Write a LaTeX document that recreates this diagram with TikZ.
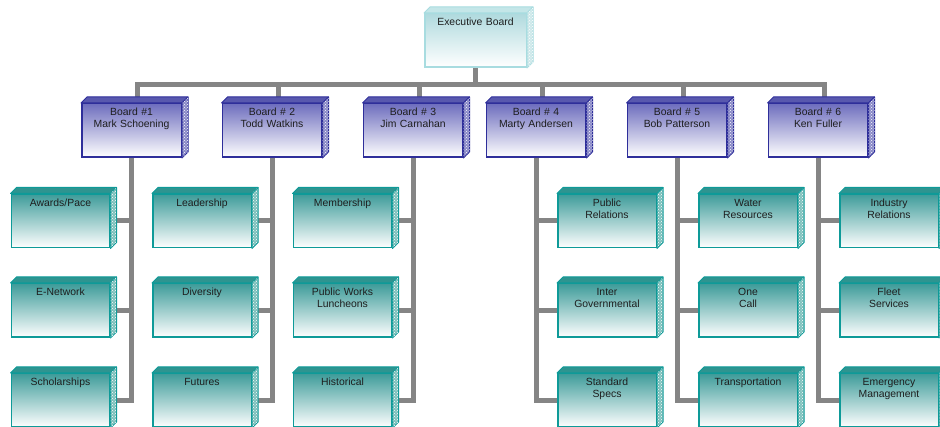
\documentclass[tikz,border=0pt]{standalone}
\usepackage{fontspec}
\setmainfont{Liberation Sans}
\usetikzlibrary{backgrounds,patterns}
\definecolor{wiregray}{HTML}{858585}
\definecolor{boardedge}{HTML}{2E2E9A}
\definecolor{boardtop}{HTML}{6E6EBE}
\definecolor{boardlid}{HTML}{5858AE}
\definecolor{boardside}{HTML}{8A8AC8}
\definecolor{teamedge}{HTML}{0E9A98}
\definecolor{teamtop}{HTML}{3E9C9A}
\definecolor{teamlid}{HTML}{2E9490}
\definecolor{teamside}{HTML}{7CC0BC}
\definecolor{execedge}{HTML}{A8DCE0}
\definecolor{exectop}{HTML}{B0DADE}
\definecolor{execlid}{HTML}{C4E6E8}
\definecolor{execside}{HTML}{CDE8EA}
\definecolor{labelgray}{HTML}{1E1E1E}
\tikzset{
  wire/.style={draw=wiregray,line width=5pt},
  card/.style={rectangle,line width=1.5pt,inner sep=3.5pt,text width=90pt,align=center,
    text height=8.5pt,text depth=38pt,text=labelgray,font=\fontsize{10.4}{12}\selectfont},
  execcard/.style={card,minimum width=101.5pt,draw=execedge,top color=exectop,bottom color=white},
  boardcard/.style={card,minimum width=99.5pt,draw=boardedge,top color=boardtop,bottom color=white},
  teamcard/.style={card,minimum width=98.5pt,draw=teamedge,top color=teamtop,bottom color=white},
  lid/.style={line width=1pt,line join=round},
  grain/.style={pattern=crosshatch dots,pattern color=white},
}
\begin{document}
\begin{tikzpicture}[x=1pt,y=-1pt]
\useasboundingbox (0,0) rectangle (940,427);
\clip (0,0) rectangle (940,427);
% top
\node[execcard] (exec) at (475.5,40.5) {Executive Board};
% boards
\node[boardcard] (b1) at (131.5,130.5) {Board \#1\\Mark Schoening};
\node[boardcard] (b2) at (272,130.5) {Board \# 2\\Todd Watkins};
\node[boardcard] (b3) at (413,130.5) {Board \# 3\\Jim Carnahan};
\node[boardcard] (b4) at (536,130.5) {Board \# 4\\Marty Andersen};
\node[boardcard] (b5) at (677,130.5) {Board \# 5\\Bob Patterson};
\node[boardcard] (b6) at (818,130.5) {Board \# 6\\Ken Fuller};
% committees
\node[teamcard] (t11) at (60.5,221) {Awards/Pace};
\node[teamcard] (t12) at (60.5,310.5) {E-Network};
\node[teamcard] (t13) at (60.5,400.5) {Scholarships};
\node[teamcard] (t21) at (202,221) {Leadership};
\node[teamcard] (t22) at (202,310.5) {Diversity};
\node[teamcard] (t23) at (202,400.5) {Futures};
\node[teamcard] (t31) at (342.5,221) {Membership};
\node[teamcard] (t32) at (342.5,310.5) {Public Works\\Luncheons};
\node[teamcard] (t33) at (342.5,400.5) {Historical};
\node[teamcard] (t41) at (607,221) {Public\\Relations};
\node[teamcard] (t42) at (607,310.5) {Inter\\Governmental};
\node[teamcard] (t43) at (607,400.5) {Standard\\Specs};
\node[teamcard] (t51) at (748,221) {Water\\Resources};
\node[teamcard] (t52) at (748,310.5) {One\\Call};
\node[teamcard] (t53) at (748,400.5) {Transportation};
\node[teamcard] (t61) at (889,221) {Industry\\Relations};
\node[teamcard] (t62) at (889,310.5) {Fleet\\Services};
\node[teamcard] (t63) at (889,400.5) {Emergency\\Management};
% lids and sides
\filldraw[lid,draw=execedge,fill=execlid] (exec.north west)--++(6,-6)--([shift={(6,-6)}]exec.north east)--(exec.north east)--cycle;
\filldraw[lid,draw=execedge,fill=execside] (exec.north east)--++(6,-6)--([shift={(6,-6)}]exec.south east)--(exec.south east)--cycle;
\fill[grain] (exec.north east)--++(6,-6)--([shift={(6,-6)}]exec.south east)--(exec.south east)--cycle;
\foreach \n in {b1,b2,b3,b4,b5,b6}{
  \filldraw[lid,draw=boardedge,fill=boardlid] (\n.north west)--++(6,-6)--([shift={(6,-6)}]\n.north east)--(\n.north east)--cycle;
  \filldraw[lid,draw=boardedge,fill=boardside] (\n.north east)--++(6,-6)--([shift={(6,-6)}]\n.south east)--(\n.south east)--cycle;
  \fill[grain] (\n.north east)--++(6,-6)--([shift={(6,-6)}]\n.south east)--(\n.south east)--cycle;
}
\foreach \n in {t11,t12,t13,t21,t22,t23,t31,t32,t33,t41,t42,t43,t51,t52,t53,t61,t62,t63}{
  \filldraw[lid,draw=teamedge,fill=teamlid] (\n.north west)--++(6,-6)--([shift={(6,-6)}]\n.north east)--(\n.north east)--cycle;
  \filldraw[lid,draw=teamedge,fill=teamside] (\n.north east)--++(6,-6)--([shift={(6,-6)}]\n.south east)--(\n.south east)--cycle;
  \fill[grain] (\n.north east)--++(6,-6)--([shift={(6,-6)}]\n.south east)--(\n.south east)--cycle;
}
% wiring
\begin{scope}[on background layer]
\coordinate (bus) at (475.5,85);
\draw[wire] (exec.south)--(bus);
\foreach \b in {b1,b2,b3,b4,b5,b6}
  \draw[wire] ([xshift=6pt]\b.north)|-(bus);
\foreach \b/\g in {b1/t1,b2/t2,b3/t3,b4/t4,b5/t5,b6/t6}
  \foreach \r in {1,2,3}
    \draw[wire] (\b.south)|-(\g\r);
\end{scope}
\end{tikzpicture}
\end{document}
